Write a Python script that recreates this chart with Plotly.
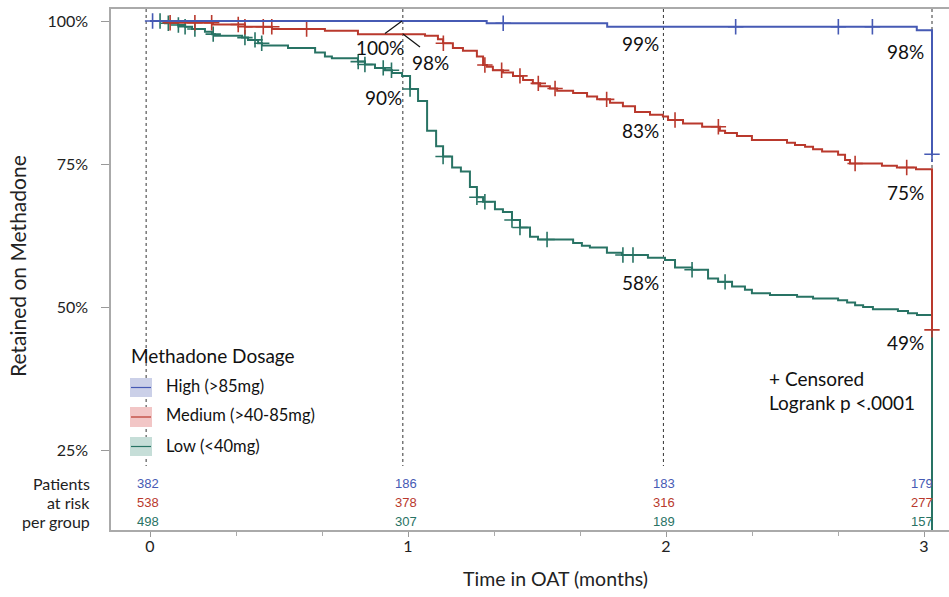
import numpy as np
import plotly.graph_objects as go

# ---------------- data (time in months, % retained) ----------------
high_t = [0, 1.305, 1.772, 2.972, 3.031]
high_s = [100, 99.6, 99.0, 98.4, 76.7]
high_cens = [0.01, 1.369, 2.270, 2.668, 2.800, 3.031]

med_t = [0, 0.078, 0.244, 0.368, 0.473, 0.678, 0.806, 1.066, 1.116, 1.136,
         1.174, 1.213, 1.267, 1.291, 1.306, 1.329, 1.368, 1.407, 1.446, 1.484,
         1.512, 1.550, 1.578, 1.640, 1.694, 1.733, 1.783, 1.833, 1.880, 1.938,
         1.988, 2.008, 2.066, 2.140, 2.209, 2.229, 2.275, 2.333, 2.469, 2.500,
         2.539, 2.570, 2.605, 2.667, 2.694, 2.713, 2.837, 2.895, 2.969, 3.031]
med_s = [100, 99.7, 99.4, 99.0, 98.6, 98.3, 97.7, 97.4, 96.8, 96.1,
         95.3, 94.8, 93.8, 92.3, 92.0, 91.4, 91.0, 90.4, 89.7, 89.1,
         88.6, 88.2, 87.8, 87.4, 86.8, 86.3, 85.7, 85.1, 84.1, 83.6,
         83.3, 82.7, 82.1, 81.5, 80.8, 80.4, 79.9, 79.2, 78.7, 78.3,
         78.0, 77.6, 77.2, 76.6, 75.7, 75.1, 74.7, 74.4, 74.1, 46.0]
med_cens = [0.078, 0.174, 0.239, 0.342, 0.368, 0.439, 0.472, 0.607, 1.137, 1.298,
            1.363, 1.434, 1.505, 1.570, 1.770, 2.035, 2.203, 2.733, 2.933, 3.031]

low_t = [0, 0.058, 0.109, 0.136, 0.163, 0.213, 0.240, 0.252, 0.357, 0.380,
         0.419, 0.434, 0.535, 0.640, 0.678, 0.705, 0.806, 0.833, 0.872, 0.911,
         0.938, 0.977, 1.008, 1.039, 1.074, 1.109, 1.136, 1.171, 1.205, 1.240,
         1.267, 1.291, 1.337, 1.368, 1.403, 1.434, 1.473, 1.504, 1.640, 1.674,
         1.705, 1.771, 1.829, 1.930, 1.996, 2.035, 2.101, 2.163, 2.202, 2.256,
         2.306, 2.333, 2.403, 2.508, 2.570, 2.667, 2.702, 2.733, 2.764, 2.802,
         2.899, 2.938, 2.973, 3.031]
low_s = [100, 99.6, 99.3, 99.0, 98.6, 98.1, 97.7, 97.4, 97.1, 96.7,
         96.1, 95.7, 95.3, 94.5, 93.8, 93.5, 92.9, 92.4, 91.8, 91.4,
         90.9, 90.4, 88.1, 86.0, 80.8, 78.1, 76.3, 74.4, 73.7, 71.0,
         69.2, 68.4, 67.1, 66.6, 65.2, 63.9, 62.3, 61.8, 61.2, 60.7,
         60.4, 59.5, 59.1, 58.6, 58.2, 56.9, 56.5, 55.0, 54.4, 53.6,
         53.0, 52.4, 52.1, 51.8, 51.5, 51.2, 50.8, 50.3, 50.0, 49.6,
         49.3, 48.9, 48.6, 0]
low_cens = [0.039, 0.071, 0.110, 0.136, 0.174, 0.245, 0.368, 0.407, 0.433, 0.807,
            0.833, 0.904, 0.936, 1.008, 1.136, 1.267, 1.298, 1.403, 1.434, 1.539,
            1.833, 1.872, 2.101, 2.229]

group_names = ["High (>85mg)", "Medium (>40-85mg)", "Low (<40mg)"]
risk_times = [0, 1, 2, 3]
high_risk = [382, 186, 183, 179]
med_risk = [538, 378, 316, 277]
low_risk = [498, 307, 189, 157]

guide_times = [-0.015, 0.98, 1.99, 3.031]
high_labels = ["100%", "99%", "98%"]
med_labels = ["98%", "83%", "75%"]
low_labels = ["90%", "58%", "49%"]

y_ticks = [25, 50, 75, 100]
x_ticks = [0, 1, 2, 3]

# ---------------- styling ----------------
BLUE = "rgb(70,90,180)"
RED = "rgb(185,57,45)"
GREEN = "rgb(40,115,100)"
BLUE_L = "rgb(203,208,232)"
RED_L = "rgb(242,198,198)"
GREEN_L = "rgb(198,222,216)"
FONT = "Lato"

W, H = 949, 597
ML, MR, MT, MB = 111, 0, 9, 67
PW, PH = W - ML - MR, H - MT - MB
X0PX, XUNIT = 150.0, 258.0
Y100PX, YUNIT = 21.0, 5.72


def tx(px):
    return (px - X0PX) / XUNIT


def yv(py):
    return 100 - (py - Y100PX) / YUNIT


def xp(px):
    return (px - ML) / PW


def yp(py):
    return 1 - (py - MT) / PH


def step_at(times, surv, t):
    i = np.searchsorted(np.asarray(times), t, side="right") - 1
    return np.asarray(surv)[i]


fig = go.Figure()
groups = [
    (low_t, low_s, low_cens, GREEN),
    (med_t, med_s, med_cens, RED),
    (high_t, high_s, high_cens, BLUE),
]
for times, surv, cens, col in groups:
    fig.add_trace(go.Scatter(x=times, y=surv, mode="lines", line=dict(color=col, width=2, shape="hv"),
                             showlegend=False, hoverinfo="skip"))
    fig.add_trace(go.Scatter(x=cens, y=[step_at(times, surv, c) for c in cens], mode="markers",
                             marker=dict(symbol="cross-thin", size=11, line=dict(color=col, width=1.6)),
                             showlegend=False, hoverinfo="skip"))

shapes = []
# dashed guide lines
for g in guide_times:
    shapes.append(dict(type="line", xref="x", yref="y", x0=g, x1=g, y0=102.1, y1=yv(466),
                       line=dict(color="#333", width=1, dash="3px,3px"), layer="below"))
# leader lines for the 1-month labels
shapes.append(dict(type="line", xref="x", yref="y", x0=tx(385), y0=yv(33.5), x1=tx(402), y1=yv(21),
                   line=dict(color="#111", width=1.2)))
shapes.append(dict(type="line", xref="x", yref="y", x0=tx(403), y0=yv(34), x1=tx(420), y1=yv(47),
                   line=dict(color="#111", width=1.2)))

# legend swatches
leg = [(BLUE, BLUE_L, 378, 397, 386), (RED, RED_L, 407, 427, 415), (GREEN, GREEN_L, 437, 456, 446)]
ann = []
for (col, lcol, top, bot, mid), name in zip(leg, group_names):
    shapes.append(dict(type="rect", xref="paper", yref="paper", x0=xp(130), x1=xp(152), y0=yp(bot), y1=yp(top),
                       fillcolor=lcol, line=dict(width=0)))
    shapes.append(dict(type="line", xref="paper", yref="paper", x0=xp(131), x1=xp(151), y0=yp((top + bot) / 2),
                       y1=yp((top + bot) / 2), line=dict(color=col, width=1.2)))
    ann.append(dict(x=xp(164), y=yp(mid), xref="paper", yref="paper", text=name, showarrow=False,
                    xanchor="left", yanchor="middle", font=dict(family=FONT, size=16.5, color="#111")))
ann.append(dict(x=xp(129), y=yp(356), xref="paper", yref="paper", text="Methadone Dosage", showarrow=False,
                xanchor="left", yanchor="middle", font=dict(family=FONT, size=19, color="#111")))

# landmark % labels
lab_font = dict(family=FONT, size=19, color="#111")
ann.append(dict(x=tx(380), y=yv(47), text=high_labels[0], showarrow=False, xanchor="center", yanchor="middle", font=lab_font))
ann.append(dict(x=tx(430), y=yv(62), text=med_labels[0], showarrow=False, xanchor="center", yanchor="middle", font=lab_font))
ann.append(dict(x=tx(383), y=yv(97), text=low_labels[0], showarrow=False, xanchor="center", yanchor="middle", font=lab_font))
for lbl, py in zip([high_labels[1], med_labels[1], low_labels[1]], [43, 130, 282]):
    ann.append(dict(x=tx(661), y=yv(py), text=lbl, showarrow=False, xanchor="right", yanchor="middle", font=lab_font))
for lbl, py in zip([high_labels[2], med_labels[2], low_labels[2]], [51, 192, 342]):
    ann.append(dict(x=tx(926), y=yv(py), text=lbl, showarrow=False, xanchor="right", yanchor="middle", font=lab_font))

# censored / logrank note
ann.append(dict(x=tx(767), y=yv(378), text="+ Censored", showarrow=False, xanchor="left", yanchor="middle", font=lab_font))
ann.append(dict(x=tx(767), y=yv(402), text="Logrank p <.0001", showarrow=False, xanchor="left", yanchor="middle", font=lab_font))

# at-risk table
for risk, col, py in [(high_risk, BLUE, 483), (med_risk, RED, 502), (low_risk, GREEN, 521)]:
    for t, n in zip(risk_times, risk):
        ann.append(dict(x=t - 0.008, y=yv(py), text=str(n), showarrow=False, xanchor="center", yanchor="middle",
                        font=dict(family="Liberation Sans", size=13, color=col)))
for txt, py in [("Patients", 483), ("at risk", 502), ("per group", 521)]:
    ann.append(dict(x=xp(92), y=yp(py), xref="paper", yref="paper", text=txt, showarrow=False,
                    xanchor="right", yanchor="middle", font=dict(family=FONT, size=16, color="#222")))

# axis titles
ann.append(dict(x=xp(18), y=yp(266), xref="paper", yref="paper", text="Retained on Methadone", textangle=-90,
                showarrow=False, xanchor="center", yanchor="middle", font=dict(family=FONT, size=21, color="#222")))
ann.append(dict(x=xp(555), y=yp(578), xref="paper", yref="paper", text="Time in OAT (months)",
                showarrow=False, xanchor="center", yanchor="middle", font=dict(family=FONT, size=19.5, color="#222")))

fig.update_layout(
    width=W, height=H, margin=dict(l=ML, r=MR, t=MT, b=MB),
    paper_bgcolor="white", plot_bgcolor="white",
    shapes=shapes, annotations=ann, showlegend=False,
    xaxis=dict(range=[tx(ML), tx(W - MR)], tickvals=x_ticks, ticktext=[str(v) for v in x_ticks],
               ticks="outside", ticklen=5, tickcolor="#999", showline=True, linecolor="#aaa", linewidth=1.5,
               mirror=True, showgrid=False, zeroline=False, ticklabelstandoff=-4,
               tickfont=dict(family=FONT, size=16, color="#222"),
               minor=dict(tick0=0, dtick=1 / 3, ticks="outside", ticklen=4, tickcolor="#aaa")),
    yaxis=dict(range=[yv(MT + PH), yv(MT)], tickvals=y_ticks, ticktext=[f"{v}%" for v in y_ticks],
               ticks="outside", ticklen=8, tickcolor="#999", showline=True, linecolor="#aaa", linewidth=1.5,
               showgrid=False, zeroline=False, ticklabelstandoff=10,
               tickfont=dict(family=FONT, size=16, color="#222")),
)

fig.write_html("out.html", config={"displayModeBar": False},
               post_script="document.body.style.margin='0';document.body.style.overflow='hidden';")
